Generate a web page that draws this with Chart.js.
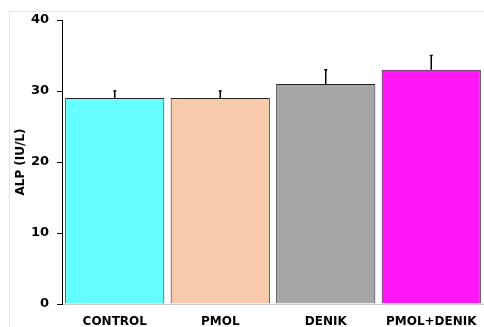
<!DOCTYPE html>
<html>
<head>
<meta charset="utf-8">
<script src="https://cdn.jsdelivr.net/npm/chart.js@4.4.0/dist/chart.umd.min.js"></script>
<style>
  html, body { margin: 0; padding: 0; background: #fff; overflow: hidden; }
  #wrap { position: relative; width: 484px; height: 327px; }
  #frame { position: absolute; left: 9px; top: 11px; width: 600px; height: 400px; border: 1px solid #e6e6e6; }
  canvas { position: absolute; left: 0; top: 0; }
</style>
</head>
<body>
<div id="wrap">
  <div id="frame"></div>
  <canvas id="chart1" width="484" height="327"></canvas>
</div>
<script>
var labels = ['CONTROL', 'PMOL', 'DENIK', 'PMOL+DENIK'];
var values = [29, 29, 31, 33];
var errors = [1, 1, 2, 2];
var colors = ['#66ffff', '#f7caac', '#a6a6a6', '#ff17f5'];
var yTicks = [0, 10, 20, 30, 40];

// error bars, upper side only, drawn through the scales
var errorBars = {
  id: 'errorBars',
  afterDatasetsDraw: function(chart) {
    var ctx = chart.ctx;
    var meta = chart.getDatasetMeta(0);
    var y = chart.scales.y;
    ctx.save();
    ctx.strokeStyle = '#000';
    ctx.lineWidth = 1.5;
    meta.data.forEach(function(bar, i) {
      var top = y.getPixelForValue(values[i] + errors[i]);
      var base = y.getPixelForValue(values[i]);
      ctx.beginPath();
      ctx.moveTo(bar.x, base);
      ctx.lineTo(bar.x, top);
      ctx.moveTo(bar.x - 1.5, top);
      ctx.lineTo(bar.x + 1.5, top);
      ctx.stroke();
    });
    ctx.restore();
  }
};

const ctx = document.getElementById('chart1');
new Chart(ctx, {
  type: 'bar',
  data: {
    labels: labels,
    datasets: [{
      data: values,
      backgroundColor: colors,
      borderColor: '#222',
      borderWidth: 1,
      barPercentage: 0.94,
      categoryPercentage: 1.0
    }]
  },
  options: {
    responsive: false,
    animation: false,
    layout: { padding: { top: 20, right: 0, left: 0, bottom: 0 } },
    plugins: { legend: { display: false }, tooltip: { enabled: false } },
    scales: {
      x: {
        grid: { display: false, drawTicks: false },
        border: { color: '#cccccc', width: 1 },
        ticks: { color: '#000', padding: 11, font: { family: 'DejaVu Sans', size: 12, weight: 'bold' } },
        afterFit: function(scale) {
          scale.height = 23;
          scale.paddingLeft = 0;
          scale.paddingRight = 0;
        }
      },
      y: {
        min: 0,
        max: 40,
        afterBuildTicks: function(scale) {
          scale.ticks = yTicks.map(function(v) { return { value: v }; });
        },
        grid: { drawOnChartArea: false, tickLength: 5, color: '#000' },
        border: { color: '#000', width: 1 },
        ticks: { color: '#000', padding: 8, font: { family: 'DejaVu Sans', size: 13, weight: 'bold' } },
        title: {
          display: true,
          text: 'ALP (IU/L)',
          color: '#000',
          padding: { top: 14, bottom: 0 },
          font: { family: 'DejaVu Sans', size: 12, weight: 'bold' }
        },
        afterFit: function(scale) { scale.width = 62; }
      }
    }
  },
  plugins: [errorBars]
});
</script>
</body>
</html>
